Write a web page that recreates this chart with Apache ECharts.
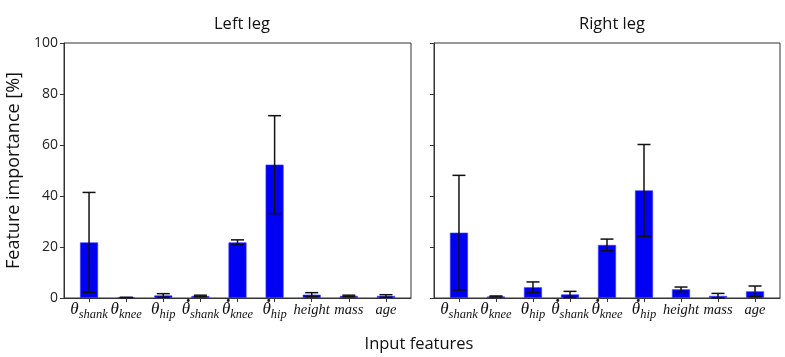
<!DOCTYPE html>
<html>
<head>
<meta charset="utf-8">
<script src="https://cdn.jsdelivr.net/npm/echarts@6/dist/echarts.min.js"></script>
<style>
	html, body { margin: 0; padding: 0; background: #fff; }
	#chart { width: 785px; height: 357px; }
</style>
</head>
<body>
<div id="chart"></div>
<script>
// 特征名称：符号 + 下标，是否带点（导数）
const featureSymbols = ['θ', 'θ', 'θ', 'θ', 'θ', 'θ', 'height', 'mass', 'age']
const featureSubs = ['shank', 'knee', 'hip', 'shank', 'knee', 'hip', '', '', '']
const featureDotted = [false, false, false, true, true, true, false, false, false]
const featureIndex = [0, 1, 2, 3, 4, 5, 6, 7, 8]

// 左腿
const leftMeans = [21.8, 0.2, 1.0, 0.8, 21.8, 52.3, 1.3, 0.8, 0.8]
const leftErrs = [19.6, 0.1, 0.7, 0.3, 1.0, 19.2, 0.8, 0.3, 0.5]
// 右腿
const rightMeans = [25.6, 0.6, 4.2, 1.4, 20.8, 42.2, 3.4, 0.8, 2.6]
const rightErrs = [22.5, 0.2, 2.1, 1.2, 2.3, 18.0, 0.9, 1.0, 2.1]

const yTicks = [0, 20, 40, 60, 80, 100]
const panelTitles = ['Left leg', 'Right leg']

const chart = echarts.init(document.getElementById('chart'))

const serif = 'Liberation Serif'
const ink = '#111'
// 点所在的第一行：点占θ的位置，后面用占位宽度对齐下标
const labelRich = {
	dot: { fontFamily: serif, fontSize: 18, fontWeight: 'bold', color: ink, width: 13, align: 'center', lineHeight: 8 },
	blank: { fontSize: 8, lineHeight: 8 },
	gapshank: { fontSize: 8, lineHeight: 8, width: 24.5 },
	gapknee: { fontSize: 8, lineHeight: 8, width: 18.5 },
	gaphip: { fontSize: 8, lineHeight: 8, width: 11.5 },
	th: { fontFamily: serif, fontStyle: 'italic', fontSize: 17, lineHeight: 18, color: ink },
	sub: { fontFamily: serif, fontStyle: 'italic', fontSize: 12.5, lineHeight: 13, color: ink, padding: [9, 0, 0, 0] },
	it: { fontFamily: serif, fontStyle: 'italic', fontSize: 14.5, lineHeight: 18, color: ink },
}

function formatFeature(v) {
	const i = Math.round(v)
	if (!featureSubs[i]) return '{blank| }\n{it|' + featureSymbols[i] + '}'
	const top = featureDotted[i] ? '{dot|.}{gap' + featureSubs[i] + '| }' : '{blank| }'
	return top + '\n{th|' + featureSymbols[i] + '}{sub|' + featureSubs[i] + '}'
}

function makeXAxis(gridIndex) {
	return {
		type: 'value',
		gridIndex: gridIndex,
		min: -0.675,
		max: 8.675,
		splitLine: { show: false },
		axisLine: { show: true, onZero: false, lineStyle: { color: '#333', width: 1 } },
		axisTick: { show: true, customValues: featureIndex, length: 4, lineStyle: { color: '#333' } },
		axisLabel: {
			show: true,
			customValues: featureIndex,
			margin: -5,
			showMinLabel: true,
			showMaxLabel: true,
			hideOverlap: false,
			formatter: formatFeature,
			rich: labelRich,
		},
	}
}

function makeYAxis(gridIndex, showLabel) {
	return {
		type: 'value',
		gridIndex: gridIndex,
		min: yTicks[0],
		max: yTicks[yTicks.length - 1],
		interval: 20,
		splitLine: { show: false },
		axisLine: { show: true, onZero: false, lineStyle: { color: '#333', width: 1 } },
		axisTick: { show: true, length: 4, lineStyle: { color: '#333' } },
		axisLabel: { show: showLabel, color: '#222', fontSize: 14, fontFamily: 'Open Sans', margin: 6 },
		name: showLabel ? 'Feature importance [%]' : '',
		nameLocation: 'middle',
		nameGap: 41,
		nameTextStyle: { fontSize: 18, color: ink, fontFamily: 'Open Sans' },
	}
}

function barSeries(idx, means) {
	return {
		type: 'bar',
		xAxisIndex: idx,
		yAxisIndex: idx,
		barWidth: 18,
		data: means.map((m, i) => [i, m]),
		itemStyle: { color: '#0000f2', borderColor: '#3a3aff', borderWidth: 0.6 },
		silent: true,
	}
}

function errSeries(idx, means, errs) {
	return {
		type: 'custom',
		xAxisIndex: idx,
		yAxisIndex: idx,
		data: means.map((m, i) => [i, Math.max(m - errs[i], 0), m + errs[i]]),
		renderItem: function (params, api) {
			const lo = api.coord([api.value(0), api.value(1)])
			const hi = api.coord([api.value(0), api.value(2)])
			const cap = 6.5
			const style = { stroke: ink, lineWidth: 1.5 }
			return {
				type: 'group',
				children: [
					{ type: 'line', shape: { x1: lo[0], y1: lo[1], x2: hi[0], y2: hi[1] }, style: style },
					{ type: 'line', shape: { x1: hi[0] - cap, y1: hi[1], x2: hi[0] + cap, y2: hi[1] }, style: style },
					{ type: 'line', shape: { x1: lo[0] - cap, y1: lo[1], x2: lo[0] + cap, y2: lo[1] }, style: style },
				],
			}
		},
		z: 5,
		silent: true,
	}
}

const titleStyle = { fontSize: 16.5, fontWeight: 'normal', color: ink, fontFamily: 'Open Sans' }

const option = {
	animation: false,
	title: [
		{ text: panelTitles[0], left: 237, top: 11, textAlign: 'center', textStyle: titleStyle },
		{ text: panelTitles[1], left: 607, top: 11, textAlign: 'center', textStyle: titleStyle },
		{ text: 'Input features', left: 414, top: 331, textAlign: 'center', textStyle: titleStyle },
	],
	grid: [
		{ left: 64, top: 43, width: 347, height: 255, show: true, borderColor: '#333', borderWidth: 1 },
		{ left: 434, top: 43, width: 346, height: 255, show: true, borderColor: '#333', borderWidth: 1 },
	],
	xAxis: [makeXAxis(0), makeXAxis(1)],
	yAxis: [makeYAxis(0, true), makeYAxis(1, false)],
	series: [
		barSeries(0, leftMeans),
		errSeries(0, leftMeans, leftErrs),
		barSeries(1, rightMeans),
		errSeries(1, rightMeans, rightErrs),
	],
}
chart.setOption(option)
</script>
</body>
</html>
